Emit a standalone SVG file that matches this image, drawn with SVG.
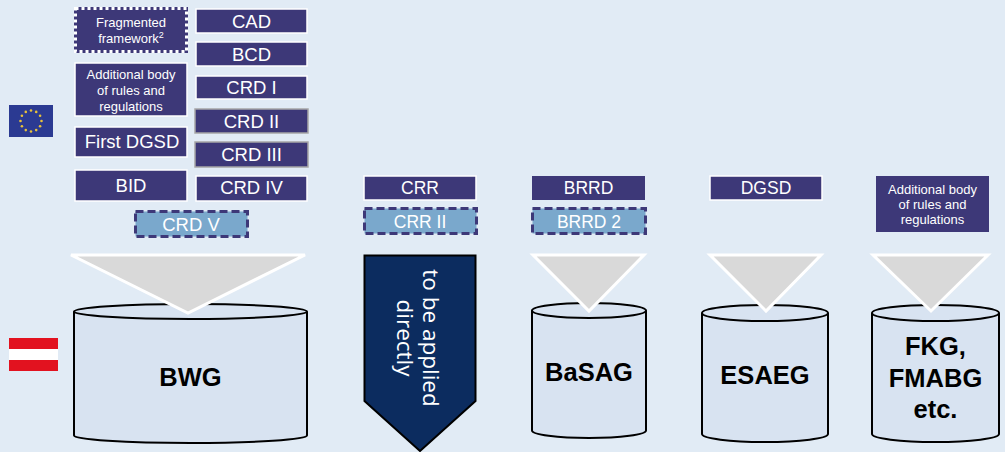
<svg xmlns="http://www.w3.org/2000/svg" width="1005" height="452" viewBox="0 0 1005 452">
<style>
.bx{fill:#3d3878;stroke:#ffffff;stroke-width:1.5}
.bxg{fill:#3d3878;stroke:#a6a6a6;stroke-width:1.5}
.lb{fill:#7aa8cc;stroke:#3d3878;stroke-width:3;stroke-dasharray:8 4}
.t{font-family:"Liberation Sans",Arial,sans-serif;fill:#ffffff;text-anchor:middle}
.t18{font-size:18.5px}
.t17{font-size:17.5px}
.t13{font-size:13px}
.tri{fill:#d9d9d9;stroke:#ffffff;stroke-width:3;stroke-linejoin:miter}
.cyl{fill:#d8e3f1;stroke:#000000;stroke-width:2}
.cb{font-family:"Liberation Sans",Arial,sans-serif;font-weight:bold;font-size:25.5px;fill:#000000;text-anchor:middle}
</style>
<rect x="0" y="0" width="1005" height="452" fill="#e1ebf5"/>

<g id="eu-flag">
<rect x="9" y="105" width="44" height="32" fill="#2b3a92"/>
<g fill="#e8c23a">
<circle cx="31" cy="110.5" r="1.3"/><circle cx="36.2" cy="111.9" r="1.3"/><circle cx="40.1" cy="115.8" r="1.3"/><circle cx="41.5" cy="121" r="1.3"/><circle cx="40.1" cy="126.2" r="1.3"/><circle cx="36.2" cy="130.1" r="1.3"/><circle cx="31" cy="131.5" r="1.3"/><circle cx="25.8" cy="130.1" r="1.3"/><circle cx="21.9" cy="126.2" r="1.3"/><circle cx="20.5" cy="121" r="1.3"/><circle cx="21.9" cy="115.8" r="1.3"/><circle cx="25.8" cy="111.9" r="1.3"/>
</g>
</g>

<g id="at-flag">
<rect x="9" y="338" width="49" height="11" fill="#e2121f"/>
<rect x="9" y="349" width="49" height="11" fill="#ffffff"/>
<rect x="9" y="360" width="49" height="11" fill="#e2121f"/>
</g>

<g id="fragmented">
<rect x="75.5" y="8.5" width="111" height="43" fill="#3d3878" stroke="#3d3878" stroke-width="3"/>
<rect x="75.5" y="8.5" width="111" height="43" fill="none" stroke="#ffffff" stroke-width="3" stroke-dasharray="3 3"/>
<text class="t t13" x="131" y="27">Fragmented</text>
<text class="t t13" x="131" y="43">framework<tspan font-size="9px" dy="-5">2</tspan></text>
</g>
<g id="additional-left">
<rect class="bx" x="75" y="63" width="112" height="53"/>
<text class="t t13" x="131" y="79">Additional body</text>
<text class="t t13" x="131" y="95">of rules and</text>
<text class="t t13" x="131" y="111">regulations</text>
</g>
<g id="first-dgsd">
<rect class="bx" x="75" y="127" width="112" height="30"/>
<text class="t t18" x="132" y="148">First DGSD</text>
</g>
<g id="bid">
<rect class="bx" x="75" y="170" width="112" height="31"/>
<text class="t t18" x="131" y="192">BID</text>
</g>
<g id="cad">
<rect class="bx" x="196" y="9" width="111" height="24"/>
<text class="t t18" x="251.5" y="28">CAD</text>
</g>
<g id="bcd">
<rect class="bx" x="196" y="42" width="111" height="24"/>
<text class="t t18" x="251.5" y="61">BCD</text>
</g>
<g id="crd1">
<rect class="bx" x="196" y="76" width="111" height="23"/>
<text class="t t18" x="251.5" y="94">CRD I</text>
</g>
<g id="crd2">
<rect class="bxg" x="195" y="109" width="113" height="24"/>
<text class="t t18" x="251.5" y="128">CRD II</text>
</g>
<g id="crd3">
<rect class="bxg" x="195" y="142" width="113" height="25"/>
<text class="t t18" x="251.5" y="161">CRD III</text>
</g>
<g id="crd4">
<rect class="bx" x="196" y="176" width="111" height="25"/>
<text class="t t18" x="251.5" y="194">CRD IV</text>
</g>
<g id="crd5">
<rect class="lb" x="135.5" y="211.5" width="112" height="25"/>
<text class="t t18" x="191" y="231">CRD V</text>
</g>

<g id="crr">
<rect class="bx" x="364" y="176" width="112" height="24"/>
<text class="t t17" x="420" y="194">CRR</text>
</g>
<g id="crr2">
<rect class="lb" x="364.5" y="208.5" width="112" height="25"/>
<text class="t t17" x="420" y="228">CRR II</text>
</g>
<g id="brrd">
<rect fill="#3d3878" x="532" y="176" width="113" height="24"/>
<text class="t t17" x="588.5" y="194">BRRD</text>
</g>
<g id="brrd2">
<rect class="lb" x="532.5" y="208.5" width="113" height="25"/>
<text class="t t17" x="589" y="228">BRRD 2</text>
</g>
<g id="dgsd">
<rect class="bx" x="710" y="176" width="112" height="24"/>
<text class="t t17" x="766" y="194">DGSD</text>
</g>
<g id="additional-right">
<rect fill="#3d3878" x="876" y="176" width="113" height="56"/>
<text class="t t13" x="932.5" y="194">Additional body</text>
<text class="t t13" x="932.5" y="209">of rules and</text>
<text class="t t13" x="932.5" y="224">regulations</text>
</g>

<g id="bwg">
<path class="cyl" d="M74,311.5 L74,435.5 A116.5,7.5 0 0 0 307,435.5 L307,311.5"/>
<ellipse class="cyl" cx="190.5" cy="311.5" rx="116.5" ry="7.5"/>
<text class="cb" x="190.5" y="386">BWG</text>
</g>
<g id="basag">
<path class="cyl" d="M532,310.5 L532,430.5 A57,7.5 0 0 0 646,430.5 L646,310.5"/>
<ellipse class="cyl" cx="589" cy="310.5" rx="57" ry="7.5"/>
<text class="cb" x="589" y="381">BaSAG</text>
</g>
<g id="esaeg">
<path class="cyl" d="M702,313 L702,434 A63,8 0 0 0 828,434 L828,313"/>
<ellipse class="cyl" cx="765" cy="313" rx="63" ry="8"/>
<text class="cb" x="765" y="384">ESAEG</text>
</g>
<g id="fkg">
<path class="cyl" d="M872,313 L872,434 A63.5,8 0 0 0 999,434 L999,313"/>
<ellipse class="cyl" cx="935.5" cy="313" rx="63.5" ry="8"/>
<text class="cb" x="935.5" y="355">FKG,</text>
<text class="cb" x="935.5" y="387">FMABG</text>
<text class="cb" x="935.5" y="418">etc.</text>
</g>

<g id="connectors">
<polygon class="tri" points="71,255 305,255 188,313"/>
<polygon class="tri" points="533,255 644,255 589,311"/>
<polygon class="tri" points="710,255 821,255 766,311"/>
<polygon class="tri" points="873,255 988,255 931,311"/>
<polygon points="364.5,255.5 475.5,255.5 475.5,401 420,451 364.5,401" fill="#0c2c5f" stroke="#000000" stroke-width="2"/>
<g transform="translate(420,338) rotate(90)">
<text x="0" y="-2.5" font-family="'Open Sans',sans-serif" font-size="22.5px" fill="#ffffff" text-anchor="middle">to be applied</text>
<text x="0" y="23.5" font-family="'Open Sans',sans-serif" font-size="22.5px" fill="#ffffff" text-anchor="middle">directly</text>
</g>
</g>
</svg>
